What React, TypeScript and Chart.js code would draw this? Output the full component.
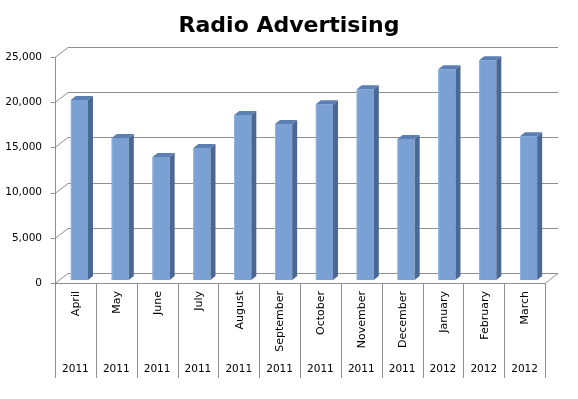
import React, { useEffect, useRef } from "react";
import { Chart, registerables } from "chart.js";

Chart.register(...registerables);

const months = ["April", "May", "June", "July", "August", "September", "October", "November", "December", "January", "February", "March"];
const years = ["2011", "2011", "2011", "2011", "2011", "2011", "2011", "2011", "2011", "2012", "2012", "2012"];
const advertising = [19900, 15700, 13600, 14600, 18250, 17250, 19450, 21100, 15600, 23300, 24300, 15900];
const yTicks = [0, 5000, 10000, 15000, 20000, 25000];
const titleText = "Radio Advertising";

const DX = 13; // depth offset of back wall
const DY = -10;
const BAR_DX = 4; // bar plane offset
const BAR_DY = -3;
const FACE_DX = 5; // bar depth
const FACE_DY = -4;
const GRID = "#8f8f8f";
const FONT = "'DejaVu Sans', Verdana, sans-serif";

const fmt = (v: number) => v.toLocaleString("en-US");

const threeD = {
  id: "threeD",
  beforeDatasetsDraw(chart: any) {
    const { ctx, chartArea, scales } = chart;
    const y = scales.y;
    const x = scales.x;
    const { left, right, bottom, top } = chartArea;
    ctx.save();
    // title
    ctx.fillStyle = "#000";
    ctx.font = `bold 22px ${FONT}`;
    ctx.textAlign = "center";
    ctx.textBaseline = "alphabetic";
    ctx.fillText(titleText, 289, 32);

    ctx.strokeStyle = GRID;
    ctx.lineWidth = 1;
    // gridlines: left wall diagonal + back wall horizontal
    yTicks.forEach((t) => {
      const py = Math.round(y.getPixelForValue(t)) + 0.5;
      ctx.beginPath();
      ctx.moveTo(left - 4, py);
      ctx.lineTo(left, py);
      ctx.lineTo(left + DX, py + DY);
      ctx.lineTo(right + DX, py + DY);
      ctx.stroke();
    });
    // left front vertical axis
    ctx.beginPath();
    ctx.moveTo(left + 0.5, Math.round(top) + 0.5);
    ctx.lineTo(left + 0.5, Math.round(bottom) + 0.5);
    ctx.stroke();
    // floor front edge and right edge
    const by = Math.round(bottom) + 0.5;
    ctx.beginPath();
    ctx.moveTo(left, by);
    ctx.lineTo(right, by);
    ctx.lineTo(right + DX, by + DY);
    ctx.stroke();

    // y labels
    ctx.fillStyle = "#000";
    ctx.font = `10.5px ${FONT}`;
    ctx.textAlign = "right";
    ctx.textBaseline = "middle";
    yTicks.forEach((t) => {
      ctx.fillText(fmt(t), left - 13, y.getPixelForValue(t));
    });

    // category area
    const n = months.length;
    const w = (right - left) / n;
    ctx.beginPath();
    for (let i = 0; i <= n; i++) {
      const px = Math.round(left + i * w) + 0.5;
      ctx.moveTo(px, by);
      ctx.lineTo(px, 378);
    }
    ctx.stroke();
    months.forEach((m, i) => {
      const cx = x.getPixelForValue(i);
      ctx.save();
      ctx.translate(cx + 1, 291);
      ctx.rotate(-Math.PI / 2);
      ctx.font = `11px ${FONT}`;
      ctx.textAlign = "right";
      ctx.textBaseline = "middle";
      ctx.fillText(m, 0, 0);
      ctx.restore();
      ctx.font = `10.5px ${FONT}`;
      ctx.textAlign = "center";
      ctx.textBaseline = "middle";
      ctx.fillText(years[i], cx, 369);
    });
    ctx.restore();

    ctx.save();
    ctx.translate(BAR_DX, BAR_DY);
  },
  afterDatasetsDraw(chart: any) {
    const { ctx } = chart;
    const meta = chart.getDatasetMeta(0);
    meta.data.forEach((bar: any) => {
      const l = bar.x - bar.width / 2;
      const r = bar.x + bar.width / 2;
      const t = bar.y;
      const b = bar.base;
      // side
      ctx.fillStyle = "#4b6894";
      ctx.beginPath();
      ctx.moveTo(r, t);
      ctx.lineTo(r + FACE_DX, t + FACE_DY);
      ctx.lineTo(r + FACE_DX, b + FACE_DY);
      ctx.lineTo(r, b);
      ctx.closePath();
      ctx.fill();
      // top
      ctx.fillStyle = "#5b7eb3";
      ctx.beginPath();
      ctx.moveTo(l, t);
      ctx.lineTo(l + FACE_DX, t + FACE_DY);
      ctx.lineTo(r + FACE_DX, t + FACE_DY);
      ctx.lineTo(r, t);
      ctx.closePath();
      ctx.fill();
      // light left edge
      ctx.fillStyle = "#8fb1de";
      ctx.fillRect(l, t, 1, b - t);
    });
    ctx.restore();
  },
};

export default function App() {
  const ref = useRef<HTMLCanvasElement>(null);
  useEffect(() => {
    document.body.style.margin = "0";
    const chart = new Chart(ref.current!, {
      type: "bar",
      data: {
        labels: months,
        datasets: [
          {
            data: advertising,
            backgroundColor: "#7aa0d4",
            borderWidth: 0,
            barPercentage: 0.42,
            categoryPercentage: 1,
          },
        ],
      },
      options: {
        responsive: false,
        animation: false,
        layout: { padding: { left: 55, right: 33, top: 57, bottom: 116 } },
        plugins: { legend: { display: false }, tooltip: { enabled: false }, title: { display: false } },
        scales: {
          x: { display: false, offset: true },
          y: { display: false, min: 0, max: 25000, ticks: { stepSize: 5000 } },
        },
      },
      plugins: [threeD],
    });
    return () => chart.destroy();
  }, []);
  return (
    <div style={{ width: 578, height: 399, background: "#fff" }}>
      <canvas ref={ref} width={578} height={399} />
    </div>
  );
}
